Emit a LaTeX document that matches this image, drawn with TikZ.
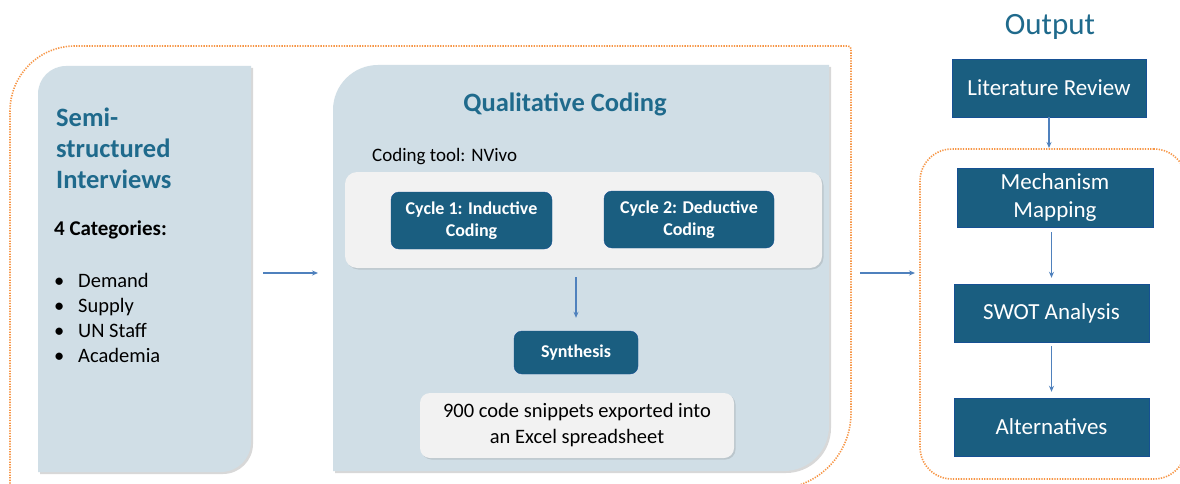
\documentclass[tikz,border=0pt]{standalone}
\usepackage{fontspec}
\setmainfont{Carlito}
\usetikzlibrary{arrows.meta,positioning,shadows}
\definecolor{panelblue}{HTML}{D0DEE6}
\definecolor{deepteal}{HTML}{1A5E80}
\definecolor{titleteal}{HTML}{1F6A8C}
\definecolor{flowblue}{HTML}{4F81BD}
\definecolor{frameorange}{HTML}{F79646}
\definecolor{softwhite}{HTML}{F2F2F2}
\tikzset{
  qcarea/.style={inner sep=0pt,outer sep=0pt},
  qcpanel/.style={fill=panelblue,drop shadow={shadow xshift=2pt,shadow yshift=-2pt,opacity=0.3}},
  qcframe/.style={draw=frameorange,line width=1.6pt,dash pattern=on 1.3pt off 1.3pt},
  qcdark/.style={draw=deepteal!85!blue,fill=deepteal,rounded corners=8pt,text=white,align=center,
                 inner sep=0pt,font=\bfseries\fontsize{18}{22}\selectfont},
  qclight/.style={fill=softwhite,rounded corners=12pt,inner sep=0pt,align=center,
                  drop shadow={shadow xshift=1.5pt,shadow yshift=-1.5pt,opacity=0.25}},
  qcout/.style={draw=deepteal!85!blue,fill=deepteal,text=white,align=center,inner sep=0pt,
                minimum width=195pt,minimum height=58pt,font=\fontsize{23}{28}\selectfont},
  qctitle/.style={text=titleteal,inner sep=0pt,font=\bfseries\fontsize{26.5}{31}\selectfont},
  qctext/.style={inner sep=0pt,align=left,font=\fontsize{20.5}{25}\selectfont},
  qcflow/.style={-{Stealth[length=6pt,width=5pt]},draw=flowblue,line width=1.4pt},
}
\begin{document}
\begin{tikzpicture}[x=1pt,y=-1pt]
  \clip (0,0) rectangle (1180,484);
  \fill[white] (0,0) rectangle (1180,484);
  % outer dotted frames
  \draw[qcframe] (10,520) [rounded corners=65pt] -- (10,46) [rounded corners=3pt] -- (851,46)
    [rounded corners=76pt] -- (851,489) [sharp corners] -- (-20,489);
  \node[qcarea,qcframe,rounded corners=32pt,minimum width=266pt,minimum height=330pt] (outframe) at (1053,314) {};
  % panels
  \node[qcarea,minimum width=213pt,minimum height=406pt] (semi) at (144.5,269) {};
  \node[qcarea,minimum width=496pt,minimum height=406pt] (coding) at (581,268) {};
  \fill[qcpanel] (semi.south west) [rounded corners=28pt] -- (semi.north west) [sharp corners]
    -- (semi.north east) [rounded corners=30pt] -- (semi.south east) [sharp corners] -- cycle;
  \fill[qcpanel] (coding.south west) [rounded corners=45pt] -- (coding.north west) [sharp corners]
    -- (coding.north east) [rounded corners=45pt] -- (coding.south east) [sharp corners] -- cycle;
  % interviews
  \node[qctitle,anchor=west,align=left] (semititle) at (56,148) {Semi-\\structured\\Interviews};
  \node[qctext,anchor=west,font=\bfseries\fontsize{21}{25}\selectfont] (cats) at (54,230) {4 Categories:};
  \node[qctext,anchor=west] (catlist) at (54,318)
    {\makebox[24pt][l]{\textbullet}Demand\\\makebox[24pt][l]{\textbullet}Supply\\
     \makebox[24pt][l]{\textbullet}UN Staff\\\makebox[24pt][l]{\textbullet}Academia};
  % coding
  \node[qctitle] (codetitle) at (565,104) {Qualitative Coding};
  \node[qctext,anchor=west,font=\fontsize{19}{22}\selectfont] (tool) at (372,157) {Coding tool: NVivo};
  \node[qclight,minimum width=477pt,minimum height=96pt] (cycles) at (583.5,220) {};
  \node[qcdark,minimum width=161pt,minimum height=57pt] (cyc1) at (471.5,220.5) {Cycle 1: Inductive\\Coding};
  \node[qcdark,minimum width=170pt,minimum height=57pt] (cyc2) at (689,219.5) {Cycle 2: Deductive\\Coding};
  \node[qcdark,minimum width=124pt,minimum height=43pt] (synth) at (576,352.5) {Synthesis};
  \node[qclight,rounded corners=10pt,minimum width=314pt,minimum height=65pt,
        font=\fontsize{20.5}{26}\selectfont] (snippets) at (577,425.5)
    {900 code snippets exported into\\an Excel spreadsheet};
  % output
  \node[text=titleteal,inner sep=0pt,font=\fontsize{31}{34}\selectfont] (outtitle) at (1050,27) {Output};
  \node[qcout,minimum width=194pt] (litrev) at (1049,88) {Literature Review};
  \node[qcout,minimum width=196pt,minimum height=59pt] (mechmap) at (1055,197.5) {Mechanism\\Mapping};
  \node[qcout] (swot) at (1051.5,313) {SWOT Analysis};
  \node[qcout] (altern) at (1051.5,427) {Alternatives};
  % connectors
  \coordinate (flowy) at (0,273);
  \draw[qcflow,shorten <=12pt,shorten >=15pt] (semi.east |- flowy) -- (coding.west |- flowy);
  \draw[qcflow,shorten <=31pt,shorten >=5pt] (coding.east |- flowy) -- (outframe.west |- flowy);
  \draw[qcflow,shorten <=9pt,shorten >=13pt] (synth.north |- cycles.south) -- (synth.north);
  \draw[qcflow,shorten >=1pt] (litrev.south) -- (litrev.south |- outframe.north);
  \draw[qcflow,shorten <=5pt,shorten >=6pt] (swot.north |- mechmap.south) -- (swot.north);
  \draw[qcflow,shorten <=4pt,shorten >=6pt] (swot.south) -- (altern.north);
\end{tikzpicture}
\end{document}
